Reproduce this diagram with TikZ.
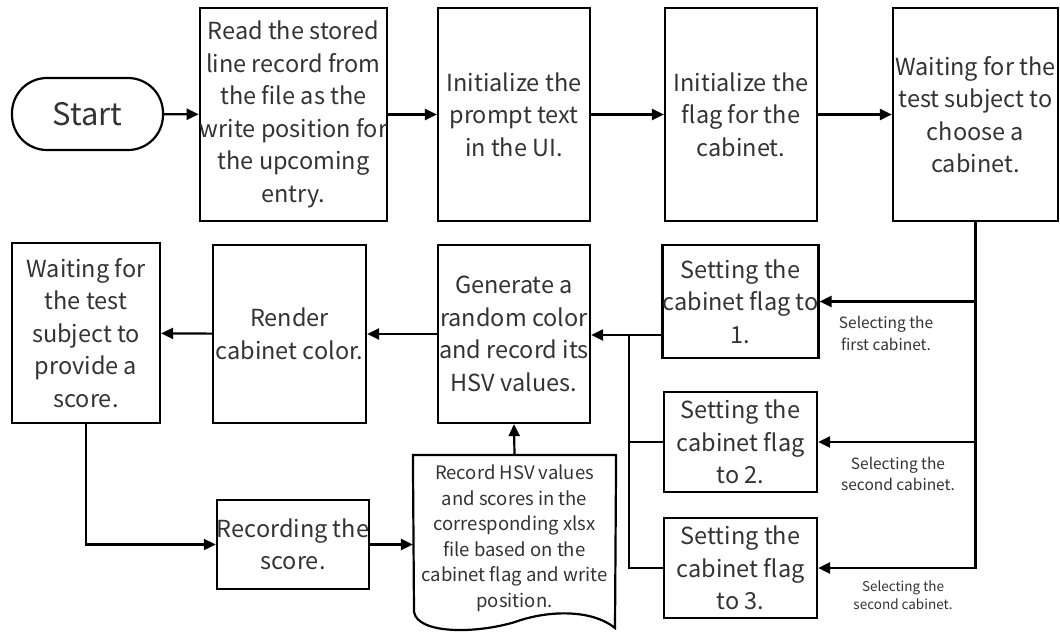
\documentclass[tikz,border=0pt]{standalone}
\usepackage{fontspec}
\setmainfont{Noto Sans CJK SC}
\usetikzlibrary{arrows.meta}
\definecolor{txt}{HTML}{333333}

\begin{document}
\begin{tikzpicture}[x=1pt,y=-1pt,line width=2.2pt,
  box/.style={draw,inner sep=0pt,align=center,text=txt,font=\fontsize{23.5}{32.5}\selectfont},
  arr/.style={-{Triangle[length=12pt,width=11pt]}},
  note/.style={align=center,text=txt,inner sep=0pt,font=\fontsize{15.5}{21.5}\selectfont}]
\useasboundingbox (0,0) rectangle (1060,633);

% top row
\node[box,rounded corners=35pt,minimum width=151pt,minimum height=72pt,font=\fontsize{31}{31}\selectfont] (start) at (87.5,114) {Start};
\node[box,minimum width=187pt,minimum height=213pt] (read) at (293.5,114.5) {Read the stored\\line record from\\the file as the\\write position for\\the upcoming\\entry.};
\node[box,minimum width=152pt,minimum height=213pt] (prompt) at (514,114.5) {Initialize the\\prompt text\\in the UI.};
\node[box,minimum width=152pt,minimum height=213pt] (flag) at (741,114.5) {Initialize the\\flag for the\\cabinet.};
\node[box,minimum width=165pt,minimum height=213pt] (choose) at (975.5,114.5) {Waiting for the\\test subject to\\choose a\\cabinet.};

% cabinet flags
\node[box,minimum width=153pt,minimum height=113pt] (set1) at (740.5,301.5) {Setting the\\cabinet flag to\\1.};
\node[box,minimum width=153pt,minimum height=100pt] (set2) at (740.5,442) {Setting the\\cabinet flag\\to 2.};
\node[box,minimum width=153pt,minimum height=100pt] (set3) at (740.5,568) {Setting the\\cabinet flag\\to 3.};
\node[note] (sel1) at (886,333.5) {Selecting the\\first cabinet.};
\node[note] (sel2) at (898,474) {Selecting the\\second cabinet.};
\node[note,font=\fontsize{13.5}{18.5}\selectfont] (sel3) at (903,595) {Selecting the\\second cabinet.};

% middle row
\node[box,minimum width=152pt,minimum height=178pt] (generate) at (514,334) {Generate a\\random color\\and record its\\HSV values.};
\node[box,minimum width=153pt,minimum height=178pt] (render) at (289.5,334) {Render\\cabinet color.};
\node[box,minimum width=148pt,minimum height=180pt] (waitscore) at (86,333) {Waiting for\\the test\\subject to\\provide a\\score.};

% bottom row
\node[box,minimum width=152pt,minimum height=89pt] (recscore) at (293,544.5) {Recording the\\score.};
\node[box,draw=none,minimum width=201pt,minimum height=164pt,font=\fontsize{18.5}{25.5}\selectfont] (record) at (514.5,538) {Record HSV values\\and scores in the\\corresponding xlsx\\file based on the\\cabinet flag and write\\position.};
\draw (record.north west) -- (record.north east) -- (615,628)
  .. controls (590,608) and (545,611) .. (515,622)
  .. controls (475,634) and (418,634) .. (414,612) -- cycle;

\draw[arr] (start) -- (read);
\draw[arr] (read) -- (prompt);
\draw[arr] (prompt) -- (flag);
\draw[arr] (flag) -- (choose);
\draw[arr] (choose.south) |- (set3.east);
\draw[arr] (choose.south |- set1.east) -- (set1.east);
\draw[arr] (choose.south |- set2.east) -- (set2.east);

\coordinate (bus) at (629,335);
\draw[arr] (set1.west |- bus) -- (bus -| generate.east);
\draw (set3.west) -| (bus);
\draw (set2.west) -- (set2.west -| bus);

\draw[arr] (generate) -- (render);
\draw[arr] (render) -- (waitscore);
\draw[arr] (waitscore.south) |- (recscore.west);
\draw[arr] (recscore.east) -- (recscore.east -| record.west);
\draw[arr] (record.north) -- (generate.south);
\end{tikzpicture}
\end{document}
